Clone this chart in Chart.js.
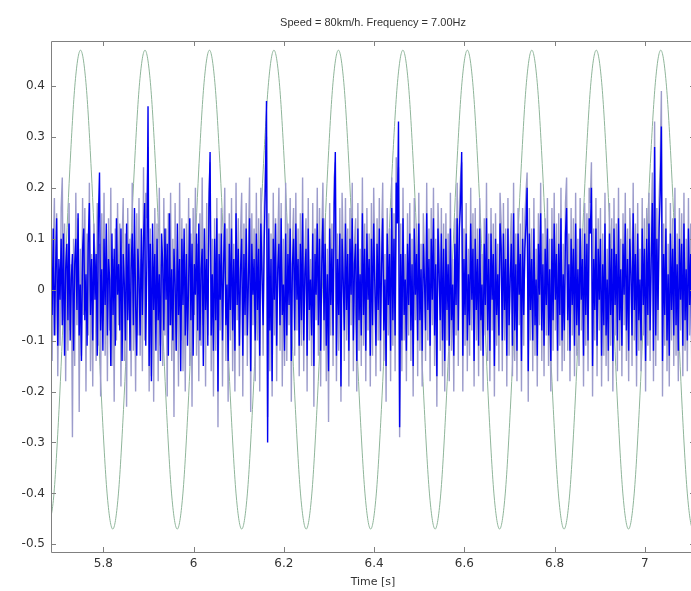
<!DOCTYPE html>
<html>
<head>
<meta charset="utf-8">
<script src="https://cdn.jsdelivr.net/npm/chart.js@4"></script>
<style>
  html, body { margin: 0; padding: 0; background: #fff; overflow: hidden; }
  canvas { display: block; }
</style>
</head>
<body>
<canvas id="myChart" width="698" height="591"></canvas>
<script>
// Speed = 80 km/h run, 7.00 Hz excitation

var chartTitle = 'Speed = 80km/h. Frequency = 7.00Hz';
var xLabel = 'Time [s]';

// tick labels
var xTicks = [5.8, 6, 6.2, 6.4, 6.6, 6.8, 7];
var yTicks = [-0.5, -0.4, -0.3, -0.2, -0.1, 0, 0.1, 0.2, 0.3, 0.4];

// visible window
var tMin = 5.684, tMax = 7.111;
var yMin = -0.515, yMax = 0.488;

// excitation, sampled at 84 Hz
var excStart = 5.678, excRate = 84;
var excitation = [
    -0.47, -0.407, -0.235, 0, 0.235, 0.407, 0.47, 0.407, 0.235, 0, -0.235, -0.407,
    -0.47, -0.407, -0.235, 0, 0.235, 0.407, 0.47, 0.407, 0.235, 0, -0.235, -0.407,
    -0.47, -0.407, -0.235, 0, 0.235, 0.407, 0.47, 0.407, 0.235, 0, -0.235, -0.407,
    -0.47, -0.407, -0.235, 0, 0.235, 0.407, 0.47, 0.407, 0.235, 0, -0.235, -0.407,
    -0.47, -0.407, -0.235, 0, 0.235, 0.407, 0.47, 0.407, 0.235, 0, -0.235, -0.407,
    -0.47, -0.407, -0.235, 0, 0.235, 0.407, 0.47, 0.407, 0.235, 0, -0.235, -0.407,
    -0.47, -0.407, -0.235, 0, 0.235, 0.407, 0.47, 0.407, 0.235, 0, -0.235, -0.407,
    -0.47, -0.407, -0.235, 0, 0.235, 0.407, 0.47, 0.407, 0.235, 0, -0.235, -0.407,
    -0.47, -0.407, -0.235, 0, 0.235, 0.407, 0.47, 0.407, 0.235, 0, -0.235, -0.407,
    -0.47, -0.407, -0.235, 0, 0.235, 0.407, 0.47, 0.407, 0.235, 0, -0.235, -0.407,
    -0.47, -0.407
];

// measured signals, sampled at 400 Hz
var sigStart = 5.684, sigRate = 400;

var rawSignal = [
    0.12, -0.14, 0.06, 0.18, -0.09, 0.15, -0.17, 0.04, -0.11, 0.16,
    0.22, -0.06, 0.13, -0.18, 0.09, -0.12, 0.17, -0.08, 0.05, -0.29,
    0.10, -0.15, 0.19, -0.07, 0.14, -0.24, 0.08, -0.13, 0.18, -0.05,
    0.16, -0.20, 0.11, -0.09, 0.21, -0.16, 0.07, -0.19, 0.13, 0.02,
    -0.14, 0.17, -0.11, 0.09, -0.21, 0.15, -0.06, 0.19, -0.13, 0.10,
    -0.18, 0.14, -0.08, 0.20, -0.15, 0.06, -0.22, 0.12, -0.10, 0.17,
    -0.07, 0.13, -0.19, 0.09, 0.18, -0.14, 0.11, -0.23, 0.16, -0.04,
    0.10, -0.17, 0.21, -0.12, 0.07, -0.20, 0.15, -0.09, 0.18, -0.13,
    0.06, -0.16, 0.24, -0.10, 0.19, 0.14, 0.28, -0.20, 0.12, -0.17,
    0.09, -0.22, 0.16, -0.06, 0.13, -0.18, 0.20, -0.11, 0.05, -0.15,
    0.18, -0.09, 0.12, -0.21, 0.15, -0.07, 0.19, -0.14, 0.10, -0.25,
    0.17, -0.12, 0.08, -0.19, 0.21, -0.10, 0.14, -0.16, 0.06, -0.20,
    0.13, -0.08, 0.18, -0.15, 0.11, -0.23, 0.16, -0.05, 0.20, -0.13,
    0.09, -0.18, 0.15, -0.11, 0.22, -0.07, 0.12, -0.19, 0.17, -0.09,
    0.19, 0.25, -0.16, 0.10, -0.21, 0.14, -0.12, 0.18, -0.27, 0.11,
    -0.08, 0.16, -0.19, 0.07, 0.20, -0.14, 0.12, -0.22, 0.15, -0.10,
    0.18, -0.16, 0.09, -0.20, 0.21, -0.06, 0.14, -0.17, 0.11, 0.19,
    -0.21, 0.13, -0.09, 0.17, -0.15, 0.08, 0.22, -0.24, 0.15, -0.07,
    0.12, -0.18, 0.19, -0.10, 0.14, -0.20, 0.20, 0.09, -0.13, 0.16,
    0.24, 0.30, -0.25, 0.15, -0.16, 0.11, -0.21, 0.19, -0.09, 0.14,
    -0.18, 0.08, 0.20, -0.12, 0.17, -0.19, 0.10, -0.15, 0.21, -0.14,
    0.13, -0.07, 0.18, -0.22, 0.09, 0.16, -0.13, 0.19, -0.08, 0.12,
    -0.17, 0.15, -0.11, 0.22, -0.16, 0.07, 0.14, -0.20, 0.18, -0.10,
    0.06, -0.15, 0.17, -0.23, 0.12, -0.06, 0.20, -0.13, 0.16, -0.19,
    0.10, 0.21, -0.12, 0.14, -0.18, 0.08, -0.26, 0.17, -0.09, 0.13,
    -0.15, 0.22, 0.25, -0.18, 0.11, -0.12, 0.16, -0.22, 0.19, 0.07,
    -0.14, 0.18, -0.10, 0.12, -0.19, 0.16, -0.07, 0.21, -0.16, 0.09,
    0.14, -0.20, 0.17, -0.12, 0.08, -0.15, 0.22, -0.11, 0.13, -0.18,
    0.16, -0.08, 0.11, -0.19, 0.17, -0.13, 0.20, 0.06, -0.17, 0.14,
    -0.10, 0.18, -0.16, 0.09, 0.21, -0.14, 0.07, -0.22, 0.16, -0.09,
    0.12, -0.18, 0.22, -0.11, 0.15, -0.16, 0.26, 0.19, 0.24, -0.29,
    0.13, -0.16, 0.20, -0.10, 0.07, -0.18, 0.15, -0.09, 0.17, -0.14,
    0.10, -0.21, 0.18, -0.06, 0.13, -0.17, 0.19, -0.12, 0.09, -0.19,
    0.15, 0.07, -0.14, 0.21, -0.10, 0.12, -0.18, 0.16, -0.07, 0.20,
    -0.15, 0.10, -0.23, 0.17, 0.08, -0.12, 0.16, -0.17, 0.13, -0.20,
    0.15, -0.10, 0.11, -0.18, 0.19, -0.12, 0.06, -0.20, 0.14, -0.09,
    0.21, -0.15, 0.17, 0.22, 0.25, -0.20, 0.12, -0.11, 0.17, -0.16,
    0.08, -0.13, 0.20, -0.08, 0.15, -0.19, 0.16, -0.10, 0.12, -0.17,
    0.18, -0.12, 0.07, -0.20, 0.14, -0.09, 0.21, -0.14, 0.11, -0.18,
    0.16, -0.08, 0.13, -0.21, 0.15, -0.11, 0.09, -0.16, 0.19, 0.13,
    -0.16, 0.17, -0.10, 0.12, -0.19, 0.18, -0.13, 0.08, 0.15, -0.17,
    0.21, -0.14, 0.11, -0.18, 0.16, -0.07, 0.13, -0.20, 0.16, -0.11,
    0.14, 0.19, 0.23, -0.22, 0.16, -0.10, 0.12, -0.16, 0.18, -0.13,
    0.08, -0.19, 0.15, -0.07, 0.21, -0.14, 0.11, -0.17, 0.14, -0.09,
    0.18, -0.15, 0.10, -0.20, 0.16, -0.12, 0.19, -0.08, 0.13, -0.18,
    0.15, -0.11, 0.20, -0.16, 0.09, -0.14, 0.17, 0.22, -0.12, 0.11,
    -0.18, 0.16, -0.09, 0.14, -0.17, 0.19, -0.13, 0.10, -0.15, 0.18,
    -0.08, 0.12, -0.19, 0.17, -0.11, 0.15, -0.16, 0.20, 0.17, 0.25,
    -0.21, 0.12, -0.10, 0.18, -0.17, 0.14, -0.08, 0.16, -0.19, 0.11,
    -0.13, 0.19, -0.15, 0.08, -0.18, 0.17, -0.11, 0.14, -0.20, 0.18,
    -0.09, 0.13, -0.16, 0.20, -0.12, 0.10, -0.17, 0.15, -0.07, 0.19,
    -0.14, 0.12, -0.18, 0.16, 0.09, -0.15, 0.21, -0.10, 0.13, -0.19,
    0.17, -0.12, 0.08, -0.16, 0.18, -0.09, 0.14, -0.20, 0.16, -0.11,
    0.19, -0.14, 0.12, 0.23, -0.18, 0.33, -0.15, 0.16, -0.10, 0.18,
    0.25, 0.39, -0.21, 0.13, -0.11, 0.18, -0.16, 0.09, -0.19, 0.17,
    -0.10, 0.14, -0.15, 0.20, -0.13, 0.11, -0.18, 0.16, -0.08, 0.15,
    -0.17, 0.19, -0.12, 0.10, -0.16, 0.18, -0.09, 0.13, -0.19, 0.17,
    -0.11, 0.15, -0.14, 0.18
];

var filteredSignal = [
    0.08, -0.05, 0.12, -0.09, 0.03, 0.14, -0.11, 0.06, -0.02, 0.10,
    -0.07, 0.11, -0.13, 0.04, 0.09, -0.06, 0.13, -0.10, 0.02, 0.07,
    -0.12, 0.05, 0.10, -0.04, 0.15, -0.09, 0.01, -0.14, 0.08, 0.12,
    -0.06, 0.03, -0.11, 0.09, 0.17, -0.05, 0.06, -0.10, 0.11, -0.02,
    0.07, -0.13, 0.14, 0.23, -0.08, 0.04, -0.12, 0.10, -0.03, 0.13,
    -0.09, 0.06, 0.02, -0.15, 0.11, -0.05, 0.08, -0.11, 0.14, -0.01,
    0.05, -0.08, 0.12, -0.14, 0.07, 0.01, -0.10, 0.13, -0.06, 0.09,
    -0.12, 0.04, 0.11, -0.07, 0.16, -0.03, -0.13, 0.08, 0.02, -0.09,
    0.12, -0.05, 0.10, 0.17, -0.11, 0.06, 0.36, -0.15, 0.09, -0.18,
    0.13, -0.04, 0.07, -0.12, 0.10, -0.06, 0.03, -0.14, 0.11, 0.05,
    -0.08, 0.12, -0.02, 0.09, -0.13, 0.15, -0.07, 0.04, -0.10, 0.08,
    0.01, -0.12, 0.13, -0.05, 0.06, -0.16, 0.10, -0.03, 0.12, -0.09,
    0.07, -0.11, 0.02, 0.14, -0.06, 0.09, -0.13, 0.05, -0.01, 0.11,
    -0.08, 0.13, -0.10, 0.04, 0.08, -0.15, 0.12, -0.04, 0.06, -0.11,
    0.16, 0.27, -0.09, 0.03, -0.12, 0.10, -0.06, 0.14, -0.20, 0.07,
    -0.02, 0.11, -0.10, 0.05, 0.13, -0.07, 0.01, -0.14, 0.09, -0.04,
    0.12, -0.08, 0.06, -0.12, 0.15, -0.03, 0.08, -0.11, 0.04, 0.10,
    -0.13, 0.07, -0.05, 0.12, -0.09, 0.02, 0.14, -0.16, 0.09, -0.01,
    0.06, -0.10, 0.11, -0.04, 0.08, -0.13, 0.13, 0.03, -0.07, 0.10,
    0.20, 0.37, -0.30, 0.12, -0.08, 0.06, -0.18, 0.10, -0.02, 0.13,
    -0.11, 0.04, 0.09, -0.07, 0.14, -0.05, 0.01, -0.12, 0.11, -0.09,
    0.07, -0.03, 0.12, -0.14, 0.05, 0.10, -0.08, 0.13, -0.02, 0.06,
    -0.11, 0.09, -0.06, 0.15, -0.10, 0.03, 0.08, -0.13, 0.12, -0.04,
    0.02, -0.09, 0.11, -0.15, 0.07, -0.01, 0.13, -0.07, 0.10, -0.12,
    0.05, 0.14, -0.06, 0.09, -0.11, 0.03, -0.16, 0.12, -0.03, 0.08,
    -0.09, 0.17, 0.27, -0.13, 0.06, -0.05, 0.11, -0.19, 0.10, 0.02,
    -0.08, 0.13, -0.04, 0.07, -0.12, 0.10, -0.01, 0.14, -0.10, 0.05,
    0.09, -0.14, 0.12, -0.06, 0.03, -0.09, 0.15, -0.05, 0.08, -0.12,
    0.11, -0.02, 0.06, -0.13, 0.10, -0.07, 0.13, 0.01, -0.11, 0.09,
    -0.04, 0.12, -0.10, 0.05, 0.14, -0.08, 0.02, -0.15, 0.11, -0.03,
    0.07, -0.12, 0.16, -0.06, 0.10, -0.09, 0.21, 0.13, 0.33, -0.27,
    0.07, -0.10, 0.14, -0.05, 0.02, -0.12, 0.09, -0.03, 0.11, -0.08,
    0.05, -0.15, 0.12, -0.01, 0.07, -0.10, 0.13, -0.06, 0.04, -0.12,
    0.09, 0.02, -0.08, 0.15, -0.04, 0.06, -0.11, 0.10, -0.02, 0.14,
    -0.09, 0.05, -0.17, 0.12, 0.03, -0.06, 0.11, -0.10, 0.08, -0.14,
    0.10, -0.04, 0.05, -0.11, 0.12, -0.06, 0.01, -0.13, 0.09, -0.03,
    0.14, -0.08, 0.12, 0.17, 0.27, -0.13, 0.06, -0.05, 0.11, -0.10,
    0.03, -0.07, 0.13, -0.02, 0.08, -0.14, 0.10, -0.04, 0.06, -0.11,
    0.12, -0.06, 0.01, -0.13, 0.09, -0.03, 0.14, -0.08, 0.06, -0.12,
    0.11, -0.02, 0.07, -0.15, 0.10, -0.05, 0.03, -0.09, 0.13, 0.08,
    -0.10, 0.11, -0.04, 0.06, -0.13, 0.12, -0.07, 0.02, 0.09, -0.11,
    0.15, -0.08, 0.05, -0.12, 0.11, -0.01, 0.07, -0.14, 0.10, -0.05,
    0.08, 0.13, 0.20, -0.16, 0.11, -0.04, 0.06, -0.10, 0.12, -0.07,
    0.02, -0.13, 0.09, -0.01, 0.15, -0.08, 0.05, -0.11, 0.08, -0.03,
    0.12, -0.09, 0.04, -0.14, 0.10, -0.06, 0.13, -0.02, 0.07, -0.12,
    0.09, -0.05, 0.14, -0.10, 0.03, -0.08, 0.11, 0.16, -0.06, 0.05,
    -0.12, 0.10, -0.03, 0.08, -0.11, 0.13, -0.07, 0.04, -0.09, 0.12,
    -0.02, 0.06, -0.13, 0.11, -0.05, 0.09, -0.10, 0.14, 0.11, 0.20,
    -0.15, 0.06, -0.04, 0.12, -0.11, 0.08, -0.02, 0.10, -0.13, 0.05,
    -0.07, 0.13, -0.09, 0.02, -0.12, 0.11, -0.05, 0.08, -0.14, 0.12,
    -0.03, 0.07, -0.10, 0.14, -0.06, 0.04, -0.11, 0.09, -0.01, 0.13,
    -0.08, 0.06, -0.12, 0.10, 0.03, -0.09, 0.15, -0.04, 0.07, -0.13,
    0.11, -0.06, 0.02, -0.10, 0.12, -0.03, 0.08, -0.14, 0.10, -0.05,
    0.13, -0.08, 0.06, 0.17, -0.12, 0.28, -0.09, 0.10, -0.04, 0.12,
    0.19, 0.32, -0.14, 0.07, -0.05, 0.12, -0.10, 0.03, -0.13, 0.11,
    -0.04, 0.08, -0.09, 0.14, -0.07, 0.05, -0.12, 0.10, -0.02, 0.09,
    -0.11, 0.13, -0.06, 0.04, -0.10, 0.12, -0.03, 0.07, -0.13, 0.11,
    -0.05, 0.09, -0.08, 0.12
];

// turn a sampled series into {x, y} points
function toPoints(values, start, rate) {
    return values.map(function (v, i) {
        return { x: start + i / rate, y: v };
    });
}

var tickFont = '"DejaVu Sans", Arial, sans-serif';

// axes box with inward ticks, plus the title and x label
var framePlugin = {
    id: 'frame',
    afterDatasetsDraw: function (chart) {
        var ctx = chart.ctx;
        var a = chart.chartArea;
        var xs = chart.scales.x;
        var ys = chart.scales.y;
        ctx.save();
        ctx.strokeStyle = '#808080';
        ctx.lineWidth = 1;
        ctx.beginPath();
        ctx.rect(a.left + 0.5, a.top + 0.5, a.right - a.left, a.bottom - a.top);
        xTicks.forEach(function (v) {
            var px = Math.round(xs.getPixelForValue(v)) + 0.5;
            ctx.moveTo(px, a.bottom);
            ctx.lineTo(px, a.bottom - 5);
            ctx.moveTo(px, a.top);
            ctx.lineTo(px, a.top + 5);
        });
        yTicks.forEach(function (v) {
            var py = Math.round(ys.getPixelForValue(v)) + 0.5;
            ctx.moveTo(a.left, py);
            ctx.lineTo(a.left + 5, py);
            ctx.moveTo(a.right, py);
            ctx.lineTo(a.right - 5, py);
        });
        ctx.stroke();

        var cx = (a.left + a.right) / 2;
        ctx.fillStyle = '#333';
        ctx.textAlign = 'center';
        ctx.textBaseline = 'middle';
        ctx.font = '11px "Liberation Sans", Arial, sans-serif';
        ctx.fillText(chartTitle, cx, 23);
        ctx.font = '11px ' + tickFont;
        ctx.fillText(xLabel, cx, 582);
        ctx.restore();
    }
};

var ctx = document.getElementById('myChart').getContext('2d');
var myChart = new Chart(ctx, {
    type: 'line',
    data: {
        datasets: [{
            label: 'Excitation',
            data: toPoints(excitation, excStart, excRate),
            borderColor: '#8fb59a',
            borderWidth: 1,
            cubicInterpolationMode: 'monotone',
            order: 3
        }, {
            label: 'Raw',
            data: toPoints(rawSignal, sigStart, sigRate),
            borderColor: '#9c9ccc',
            borderWidth: 1.4,
            order: 2
        }, {
            label: 'Filtered',
            data: toPoints(filteredSignal, sigStart, sigRate),
            borderColor: '#0000f2',
            borderWidth: 1.4,
            order: 1
        }]
    },
    options: {
        responsive: false,
        animation: false,
        events: [],
        layout: { padding: { top: 41, right: 3, left: 0, bottom: 0 } },
        elements: {
            point: { radius: 0 },
            line: { tension: 0, fill: false }
        },
        plugins: {
            legend: { display: false },
            title: { display: false },
            tooltip: { enabled: false }
        },
        scales: {
            x: {
                type: 'linear',
                min: tMin,
                max: tMax,
                grid: { display: false, drawTicks: false },
                border: { display: false },
                afterBuildTicks: function (scale) {
                    scale.ticks = xTicks.map(function (v) { return { value: v }; });
                },
                afterFit: function (scale) { scale.height = 39; },
                ticks: {
                    padding: 5,
                    maxRotation: 0,
                    color: '#333',
                    font: { family: tickFont, size: 12 },
                    callback: function (v) { return String(+v.toFixed(1)); }
                }
            },
            y: {
                type: 'linear',
                min: yMin,
                max: yMax,
                grid: { display: false, drawTicks: false },
                border: { display: false },
                afterBuildTicks: function (scale) {
                    scale.ticks = yTicks.map(function (v) { return { value: v }; });
                },
                afterFit: function (scale) { scale.width = 51; },
                ticks: {
                    padding: 6,
                    color: '#333',
                    font: { family: tickFont, size: 12 },
                    callback: function (v) { return String(+v.toFixed(1)); }
                }
            }
        }
    },
    plugins: [framePlugin]
});
</script>
</body>
</html>
